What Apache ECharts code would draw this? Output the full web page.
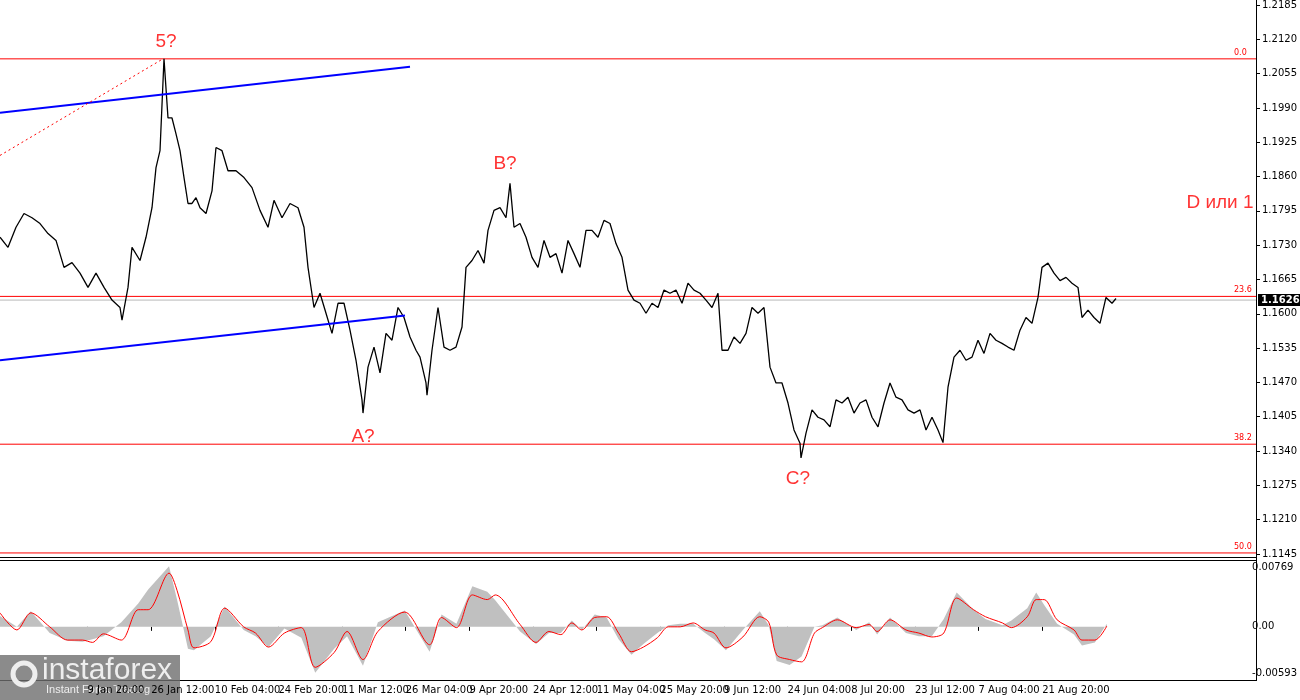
<!DOCTYPE html>
<html>
<head>
<meta charset="utf-8">
<script src="https://cdn.jsdelivr.net/npm/echarts@6/dist/echarts.min.js"></script>
<style>
  html, body { margin: 0; padding: 0; background: #fff; }
  #main { width: 1300px; height: 700px; }
</style>
</head>
<body>
<div id="main"></div>
<script>
// H4 bar index (time) and close price
var priceX = [0,8,16,24,32,40,48,56,64,72,80,88,96,104,112,120,122,128,132,140,146,152,156,160,164,168,172,176,180,184,188,192,196,200,206,212,216,222,228,236,244,252,260,268,274,282,290,298,304,308,314,320,326,332,338,344,350,356,362,363,368,374,380,386,392,398,404,410,416,420,426,427,432,438,444,450,456,462,466,472,478,484,488,494,500,506,510,514,520,526,532,538,544,550,556,562,568,574,580,586,592,598,604,610,616,622,628,634,640,646,652,658,664,670,676,682,688,694,700,706,712,718,722,728,734,740,746,752,758,764,770,776,782,788,794,800,801,806,812,818,824,830,836,842,848,854,860,866,872,878,884,890,896,902,908,914,920,926,932,938,943,948,954,960,966,972,978,984,990,996,1002,1008,1014,1020,1026,1032,1038,1042,1048,1054,1060,1066,1072,1078,1082,1088,1094,1100,1106,1112,1116];
var priceY = [1.1745,1.1726,1.1764,1.1790,1.1782,1.1771,1.1752,1.1739,1.1688,1.1697,1.1677,1.1650,1.1677,1.1650,1.1626,1.1612,1.1588,1.1650,1.1726,1.1701,1.1745,1.1801,1.1877,1.1909,1.2083,1.1971,1.1971,1.1941,1.1909,1.1858,1.1809,1.1809,1.1820,1.1801,1.1790,1.1833,1.1915,1.1909,1.1871,1.1871,1.1858,1.1839,1.1796,1.1764,1.1815,1.1782,1.1809,1.1801,1.1764,1.1688,1.1612,1.1639,1.1601,1.1563,1.1620,1.1620,1.1569,1.1512,1.1437,1.1412,1.1499,1.1537,1.1488,1.1563,1.1550,1.1612,1.1593,1.1556,1.1531,1.1518,1.1469,1.1446,1.1531,1.1612,1.1537,1.1531,1.1537,1.1575,1.1688,1.1701,1.1720,1.1696,1.1758,1.1796,1.1801,1.1782,1.1847,1.1764,1.1771,1.1745,1.1707,1.1688,1.1739,1.1707,1.1714,1.1677,1.1739,1.1714,1.1688,1.1758,1.1758,1.1745,1.1777,1.1771,1.1733,1.1707,1.1645,1.1626,1.1620,1.1601,1.1620,1.1612,1.1645,1.1639,1.1645,1.1620,1.1658,1.1645,1.1639,1.1626,1.1612,1.1639,1.1531,1.1531,1.1556,1.1544,1.1563,1.1612,1.1601,1.1612,1.1499,1.1469,1.1469,1.1431,1.1380,1.1355,1.1327,1.1374,1.1418,1.1404,1.1399,1.1386,1.1437,1.1431,1.1442,1.1412,1.1431,1.1437,1.1404,1.1386,1.1431,1.1469,1.1442,1.1437,1.1418,1.1412,1.1418,1.1380,1.1404,1.1380,1.1356,1.1461,1.1518,1.1531,1.1512,1.1518,1.1550,1.1525,1.1563,1.1550,1.1544,1.1537,1.1531,1.1569,1.1593,1.1582,1.1631,1.1688,1.1696,1.1677,1.1663,1.1669,1.1658,1.1650,1.1593,1.1607,1.1593,1.1582,1.1631,1.1620,1.1629];

// MACD: histogram (grey) and signal (red)
var macdX = [0,17,31,50,68,83,93,104,122,139,149,170,178,189,195,212,226,245,257,270,286,303,317,336,349,365,380,407,432,444,459,475,490,498,523,539,552,564,575,585,598,610,622,635,647,661,672,684,697,709,718,730,747,764,773,781,794,806,819,827,842,861,874,882,895,911,924,937,949,962,979,991,1008,1017,1033,1042,1050,1063,1080,1088,1101,1113];
var macdHist = [0.0014,0.0000,0.0020,-0.0008,-0.0018,-0.0019,-0.0016,-0.0012,0.0006,0.0030,0.0048,0.0078,0.0035,-0.0028,-0.0030,-0.0012,0.0026,-0.0004,-0.0012,-0.0026,-0.0002,-0.0014,-0.0059,-0.0028,-0.0012,-0.0050,0.0006,0.0021,-0.0032,0.0016,0.0004,0.0052,0.0045,0.0034,-0.0006,-0.0022,-0.0008,-0.0008,0.0008,-0.0004,0.0016,0.0012,-0.0016,-0.0036,-0.0022,-0.0008,0.0002,0.0004,0.0004,-0.0008,-0.0016,-0.0030,-0.0004,0.0020,0.0002,-0.0044,-0.0049,-0.0038,0.0000,0.0002,0.0012,-0.0004,0.0006,-0.0010,0.0012,-0.0008,-0.0012,-0.0012,0.0010,0.0044,0.0022,0.0010,0.0002,0.0008,0.0024,0.0044,0.0028,0.0004,-0.0010,-0.0024,-0.0020,0.0004];
var macdSignal = [0.0018,-0.0004,0.0018,0.0000,-0.0017,-0.0017,-0.0020,-0.0009,-0.0017,0.0022,0.0022,0.0069,0.0047,-0.0004,-0.0027,-0.0019,0.0024,0.0000,-0.0008,-0.0026,-0.0008,-0.0001,-0.0052,-0.0033,-0.0006,-0.0042,-0.0006,0.0019,-0.0023,0.0012,-0.0001,0.0041,0.0035,0.0041,0.0003,-0.0020,-0.0006,-0.0010,0.0005,-0.0004,0.0012,0.0013,-0.0008,-0.0032,-0.0026,-0.0014,0.0000,0.0000,0.0005,-0.0004,-0.0008,-0.0027,-0.0013,0.0013,0.0006,-0.0036,-0.0042,-0.0045,-0.0008,-0.0001,0.0009,-0.0001,0.0003,-0.0006,0.0009,-0.0004,-0.0008,-0.0013,-0.0008,0.0037,0.0022,0.0013,0.0005,-0.0001,0.0013,0.0035,0.0035,0.0009,-0.0004,-0.0017,-0.0017,0.0001];

// fibonacci levels and current price
var fibLevels = [1.2083, 1.1633, 1.1353, 1.1147];
var fibNames = ['0.0', '23.6', '38.2', '50.0'];
var lastPrice = 1.1626;

// channel and wave lines [bar, price]
var upperChannel = [[0, 1.1981], [410, 1.2068]];
var lowerChannel = [[0, 1.1512], [405, 1.1597]];
var waveDotted = [[0, 1.1900], [163, 1.2083]];
var waveLabels = [[166, 1.2115, '5?'], [363, 1.1368, 'A?'], [505, 1.1885, 'B?'], [798, 1.1288, 'C?'], [1220, 1.1810, 'D или 1']];

// x tick labels (bar index of each tick)
var tickBars = [24,88,152,216,280,344,408,472,536,600,664,728,792,856,920,984,1048,1112];
var tickLabels = ['24 Dec 04:00','9 Jan 20:00','26 Jan 12:00','10 Feb 04:00','24 Feb 20:00','11 Mar 12:00','26 Mar 04:00','9 Apr 20:00','24 Apr 12:00','11 May 04:00','25 May 20:00','9 Jun 12:00','24 Jun 04:00','8 Jul 20:00','23 Jul 12:00','7 Aug 04:00','21 Aug 20:00','7 Sep 12:00'];

var chart = echarts.init(document.getElementById('main'));
var font = 'DejaVu Sans';
var xEnd = 1256;

function zip(xs, ys) {
  return xs.map(function (x, i) { return [x, ys[i]]; });
}

// horizontal level as a 2-point line, label at its right end
function levelSeries(v, color, label) {
  return {
    type: 'line', xAxisIndex: 0, yAxisIndex: 0, showSymbol: false, silent: true,
    data: [[0, v], [xEnd, v]],
    lineStyle: { color: color, width: 1 },
    endLabel: label
  };
}

var series = [];
// current price line (grey) under the levels
series.push(levelSeries(lastPrice, '#b8b8b8', {
  show: true, formatter: lastPrice.toFixed(4), color: '#fff', backgroundColor: '#000',
  fontFamily: font, fontSize: 10, fontWeight: 'bold', padding: [1, 3, 1, 3], distance: 2
}));
fibLevels.forEach(function (v, i) {
  series.push(levelSeries(v, '#ff0000', {
    show: true, formatter: fibNames[i], color: '#ff0000', fontFamily: font, fontSize: 8,
    offset: [-22, -6], distance: 0
  }));
});

series.push(
  {
    type: 'line', xAxisIndex: 0, yAxisIndex: 0, showSymbol: false,
    data: zip(priceX, priceY),
    lineStyle: { color: '#000', width: 1.3 }
  },
  { type: 'line', xAxisIndex: 0, yAxisIndex: 0, showSymbol: false, data: upperChannel, lineStyle: { color: '#0000ff', width: 2 } },
  { type: 'line', xAxisIndex: 0, yAxisIndex: 0, showSymbol: false, data: lowerChannel, lineStyle: { color: '#0000ff', width: 2 } },
  { type: 'line', xAxisIndex: 0, yAxisIndex: 0, showSymbol: false, data: waveDotted, lineStyle: { color: '#ff0000', width: 1, type: [2, 3] } },
  {
    type: 'scatter', xAxisIndex: 0, yAxisIndex: 0, symbolSize: 0,
    data: waveLabels,
    label: { show: true, position: 'inside', color: '#ff0000', fontFamily: 'Liberation Sans', fontSize: 19,
      formatter: function (p) { return p.data[2]; } }
  },
  {
    type: 'line', xAxisIndex: 1, yAxisIndex: 1, showSymbol: false,
    data: zip(macdX, macdHist),
    lineStyle: { width: 0 },
    areaStyle: { color: '#c0c0c0', opacity: 1, origin: 0 }
  },
  {
    type: 'line', xAxisIndex: 1, yAxisIndex: 1, showSymbol: false, smooth: 0.3,
    data: zip(macdX, macdSignal),
    lineStyle: { color: '#ff0000', width: 1 }
  }
);

var option = {
  animation: false,
  backgroundColor: '#fff',
  grid: [
    { left: 0, right: 44, top: 4, height: 550 },
    { left: 0, right: 44, top: 562, height: 118 }
  ],
  xAxis: [
    { gridIndex: 0, type: 'value', min: 0, max: xEnd, show: false },
    {
      gridIndex: 1, type: 'value', min: 0, max: xEnd,
      splitLine: { show: false },
      axisLine: { show: false },
      axisTick: { show: true, customValues: tickBars, length: 4, lineStyle: { color: '#000' } },
      axisLabel: {
        customValues: tickBars,
        align: 'left', margin: 5, color: '#000', fontFamily: font, fontSize: 10,
        formatter: function (v) { return tickLabels[tickBars.indexOf(v)]; }
      }
    }
  ],
  yAxis: [
    {
      gridIndex: 0, type: 'value', position: 'right',
      min: 1.1145, max: 1.2185, interval: 0.0065,
      splitLine: { show: false },
      axisLine: { show: true, onZero: false, lineStyle: { color: '#000' } },
      axisTick: { show: true, length: 4, lineStyle: { color: '#000' } },
      axisLabel: { color: '#000', fontFamily: font, fontSize: 10, margin: 6,
        formatter: function (v) { return v.toFixed(4); } }
    },
    {
      gridIndex: 1, type: 'value', position: 'right',
      min: -0.00683, max: 0.00833,
      splitLine: { show: false },
      axisLine: { show: false },
      axisTick: { show: false },
      axisLabel: { customValues: [0.00769, 0, -0.00593], color: '#000', fontFamily: font, fontSize: 10, margin: 3,
        formatter: function (v) { return v === 0 ? '0.00' : v.toFixed(5); } }
    }
  ],
  series: series,
  graphic: [
    { type: 'line', shape: { x1: 1256.5, y1: 0, x2: 1256.5, y2: 681 }, style: { stroke: '#000', lineWidth: 1 } },
    { type: 'line', shape: { x1: 0, y1: 557.5, x2: 1256, y2: 557.5 }, style: { stroke: '#000', lineWidth: 1 } },
    { type: 'line', shape: { x1: 0, y1: 560.5, x2: 1256, y2: 560.5 }, style: { stroke: '#000', lineWidth: 1 } },
    { type: 'line', shape: { x1: 0, y1: 680.5, x2: 1256, y2: 680.5 }, style: { stroke: '#000', lineWidth: 1 } },
    { type: 'rect', shape: { x: 0, y: 655, width: 180, height: 45 }, style: { fill: 'rgba(110,110,110,0.8)' } },
    { type: 'circle', shape: { cx: 24, cy: 674, r: 11 }, style: { fill: 'none', stroke: '#eee', lineWidth: 5 } },
    { type: 'text', x: 42, y: 656, style: { text: 'instaforex', fill: '#eee', font: '30px "Liberation Sans"' } },
    { type: 'text', x: 46, y: 684, style: { text: 'Instant Forex Trading', fill: '#eee', font: '11px "Liberation Sans"' } }
  ]
};

chart.setOption(option);
</script>
</body>
</html>
